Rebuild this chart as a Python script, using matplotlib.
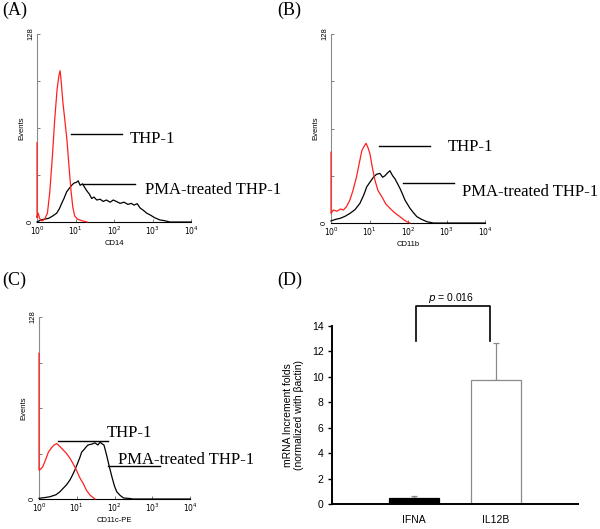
import numpy as np
import matplotlib.pyplot as plt

# ---------------- data ----------------
# flow panels: log10(fluorescence) and event counts
a_red_x = [0.00, 0.00, 0.03, 0.06, 0.10, 0.15, 0.20, 0.27, 0.33, 0.40, 0.46, 0.52, 0.57, 0.60,
           0.63, 0.67, 0.72, 0.78, 0.83, 0.88, 0.93, 0.98, 1.05, 1.15, 1.30]
a_red_y = [54, 3, 6, 3, 1, 1, 2, 6, 20, 45, 70, 90, 100, 103,
           95, 82, 70, 55, 38, 22, 10, 4, 2, 1, 0]
a_blk_x = [0.00, 0.10, 0.20, 0.30, 0.40, 0.51, 0.58, 0.64, 0.70, 0.77, 0.84, 0.90, 0.96, 1.02,
           1.07, 1.12, 1.18, 1.25, 1.30, 1.36, 1.42, 1.48, 1.55, 1.64, 1.72, 1.80, 1.90, 1.98,
           2.06, 2.16, 2.26, 2.36, 2.45, 2.52, 2.60, 2.68, 2.76, 2.85, 2.94, 3.05, 3.19, 3.30,
           3.45, 4.00]
a_blk_y = [0, 1.4, 2, 2.5, 4, 6, 9, 12.7, 16, 20.6, 23, 25, 26.5, 27,
           28, 25, 26, 23, 21, 19, 16, 17, 15, 15.5, 14, 15, 13.5, 15,
           14, 12.7, 13.5, 12, 12.7, 11.5, 12.5, 9.5, 8, 6, 4.8, 3, 1.4, 1,
           0, 0]

b_red_x = [0.00, 0.00, 0.06, 0.15, 0.25, 0.32, 0.40, 0.49, 0.57, 0.66, 0.73, 0.80, 0.86, 0.91,
           0.96, 1.01, 1.07, 1.14, 1.22, 1.32, 1.42, 1.53, 1.65, 1.79, 1.90, 1.97, 2.05]
b_red_y = [48, 6.5, 8.8, 8, 9.5, 8.8, 11, 15.6, 22, 31, 40, 49, 52, 54,
           51, 47, 38, 29, 22, 17.8, 13, 10, 7, 4.3, 2, 0.9, 0]
b_blk_x = [0.00, 0.12, 0.24, 0.36, 0.49, 0.62, 0.75, 0.85, 0.93, 1.02, 1.10, 1.18, 1.27, 1.34,
           1.40, 1.47, 1.53, 1.60, 1.66, 1.72, 1.79, 1.85, 1.92, 1.98, 2.05, 2.14, 2.23, 2.35,
           2.49, 2.66, 4.00]
b_blk_y = [1.4, 2.5, 3.2, 4.5, 6.5, 9, 13.3, 19, 24.6, 28, 31, 33, 33.6, 31,
           32, 34, 35.4, 32, 30, 27, 23.5, 20, 15.6, 13, 10, 7, 4.3, 2.5,
           0.9, 0, 0]

c_red_x = [0.00, 0.00, 0.02, 0.10, 0.18, 0.25, 0.33, 0.40, 0.47, 0.55, 0.64, 0.73, 0.82, 0.90,
           0.99, 1.08, 1.17, 1.26, 1.35, 1.48]
c_red_y = [102.5, 20.4, 20.4, 22.7, 28, 33, 36, 38, 39, 37, 34.5, 32, 28.6, 25,
           20.4, 15, 11, 6, 2.8, 0]
c_blk_x = [0.00, 0.15, 0.29, 0.45, 0.55, 0.64, 0.73, 0.82, 0.89, 0.95, 1.02, 1.08, 1.13, 1.20,
           1.26, 1.30, 1.38, 1.44, 1.48, 1.56, 1.62, 1.66, 1.72, 1.76, 1.80, 1.86, 1.93, 2.00,
           2.06, 2.15, 2.24, 2.35, 2.50, 4.00]
c_blk_y = [0.5, 1, 1.6, 3, 5, 7.5, 10, 13.4, 17, 20.4, 25, 29, 33, 35,
           37, 38, 38.5, 39, 39.5, 38, 40, 39, 38, 34, 29.8, 23, 15.7, 9,
           5.1, 2.5, 0.7, 0.5, 0, 0]

flow_ticks = [0, 32, 64, 96, 128]
decades = [1, 10, 100, 1000, 10000]
decade_labels = ['$10^{0}$', '$10^{1}$', '$10^{2}$', '$10^{3}$', '$10^{4}$']

# bar panel
genes = ['IFNA', 'IL12B']
fold = [0.45, 9.75]
fold_err = [0.15, 2.9]
p_value = '= 0.016'

serif = 'Liberation Serif'
sans = 'Liberation Sans'

fig = plt.figure(figsize=(6.0, 5.29), dpi=100)


def flow_panel(rect, red_x, red_y, blk_x, blk_y, xlabel, thp_line, thp_txt, pma_line, pma_txt):
    ax = fig.add_axes(rect)
    ax.plot(10 ** np.array(blk_x), blk_y, color='black', lw=0.9, zorder=3, clip_on=False)
    ax.plot(10 ** np.array(red_x), red_y, color='#ff2020', lw=0.9, zorder=4, clip_on=False)
    ax.set_xscale('log')
    ax.set_xlim(1, 10000)
    ax.set_ylim(0, 128)
    ax.spines['top'].set_visible(False)
    ax.spines['right'].set_visible(False)
    ax.spines['left'].set_color('#8a8a8a')
    ax.spines['bottom'].set_color('black')
    ax.set_xticks(decades)
    ax.set_xticklabels(decade_labels, fontsize=5.5, family=sans)
    ax.xaxis.set_minor_locator(plt.NullLocator())
    ax.set_yticks(flow_ticks)
    ax.set_yticklabels(['0', '', '', '', '128'], fontsize=5.5, family=sans, rotation=90, va='center')
    ax.tick_params(direction='in', length=2, width=0.6, pad=2, color='#666666')
    ax.set_xlabel(xlabel, fontsize=5.5, family=sans, labelpad=2)
    ax.set_ylabel('Events', fontsize=5.5, family=sans, labelpad=1)
    ax.plot(thp_line[:2], [thp_line[2]] * 2, transform=ax.transAxes, color='black', lw=1, clip_on=False)
    ax.plot(pma_line[:2], [pma_line[2]] * 2, transform=ax.transAxes, color='black', lw=1, clip_on=False)
    ax.text(thp_txt[0], thp_txt[1], 'THP-1', transform=ax.transAxes, fontsize=12,
            family=serif, va='center', ha='left')
    ax.text(pma_txt[0], pma_txt[1], 'PMA-treated THP-1', transform=ax.transAxes, fontsize=12,
            family=serif, va='center', ha='left')
    return ax


flow_panel([0.0617, 0.5803, 0.2567, 0.3554], a_red_x, a_red_y, a_blk_x, a_blk_y, 'CD14',
           (0.221, 0.552, 0.468), (0.604, 0.44), (0.299, 0.636, 0.202), (0.701, 0.17))
flow_panel([0.5517, 0.5784, 0.2567, 0.3573], b_red_x, b_red_y, b_blk_x, b_blk_y, 'CD11b',
           (0.312, 0.643, 0.407), (0.760, 0.40), (0.468, 0.799, 0.212), (0.851, 0.165))
flow_panel([0.065, 0.0567, 0.2517, 0.344], c_red_x, c_red_y, c_blk_x, c_blk_y, 'CD11c-PE',
           (0.126, 0.457, 0.319), (0.45, 0.363), (0.457, 0.801, 0.181), (0.523, 0.214))

# ---------------- (D) qPCR bars ----------------
ax = fig.add_axes([0.5533, 0.0473, 0.41, 0.3365])
pos = np.arange(len(genes))
ax.bar(pos, fold, width=0.61, color=['black', 'white'], edgecolor=['black', '#8a8a8a'], lw=0.9, zorder=2)
ax.errorbar(pos, fold, yerr=[[0, 0], fold_err], fmt='none', ecolor='#8a8a8a', elinewidth=0.9,
            capsize=2.5, capthick=0.9, zorder=1)
ax.set_xlim(-1, 2)
ax.set_ylim(0, 14)
ax.set_yticks(range(0, 15, 2))
ax.set_xticks(pos)
ax.set_xticklabels(genes, fontsize=7.5, family=sans)
ax.tick_params(axis='y', labelsize=7.5, length=3, width=1, pad=3)
ax.tick_params(axis='x', length=0, pad=8)
for lab in ax.get_yticklabels():
    lab.set_family(sans)
ax.spines['top'].set_visible(False)
ax.spines['right'].set_visible(False)
ax.spines['left'].set_linewidth(1.4)
ax.spines['bottom'].set_linewidth(1.4)
ax.set_ylabel('mRNA Increment folds\n(normalized with \u03b2actin)', fontsize=7.5, family=sans,
              labelpad=6, linespacing=1.1)
bx = [pos[0] + 0.03, pos[0] + 0.03, pos[1] - 0.07, pos[1] - 0.07]
ax.plot(bx, [12.8, 15.57, 15.57, 12.8], color='black', lw=1.2, clip_on=False)
ax.text(0.45, 16.2, '$\\it{p}$ ' + p_value, fontsize=7.5, family=sans, ha='center', va='center')

# panel letters
for x, y, s in [(0.003, 0.997, '(A)'), (0.462, 0.997, '(B)'), (0.003, 0.487, '(C)'), (0.462, 0.487, '(D)')]:
    fig.text(x, y, s, fontsize=13, family=serif, ha='left', va='top')

fig.savefig('out.png', dpi=100)
